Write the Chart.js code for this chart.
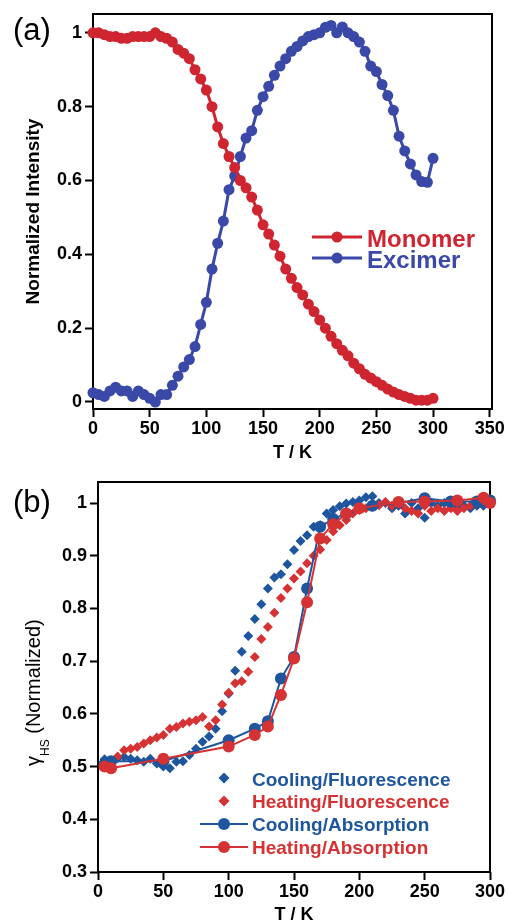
<!DOCTYPE html>
<html>
<head>
<meta charset="utf-8">
<script src="https://cdn.jsdelivr.net/npm/chart.js@4.4.1/dist/chart.umd.min.js"></script>
<style>
    html, body { margin: 0; padding: 0; background: #fff; overflow: hidden; }
    .painel { position: absolute; left: 0; top: 0; width: 508px; height: 923px; }
    #painelB { pointer-events: none; }
</style>
</head>
<body>
<div class="painel" id="painelA"><canvas id="graficoA"></canvas></div>
<div class="painel" id="painelB"><canvas id="graficoB"></canvas></div>
<script>
// ---------- dados (a): intensidade normalizada x temperatura ----------
const tempA = [0, 5, 10, 15, 20, 25, 30, 35, 40, 45, 50, 55, 60, 65, 70, 75, 80, 85, 90, 95,
    100, 105, 110, 115, 120, 125, 130, 135, 140, 145, 150, 155, 160, 165, 170, 175, 180, 185, 190, 195,
    200, 205, 210, 215, 220, 225, 230, 235, 240, 245, 250, 255, 260, 265, 270, 275, 280, 285, 290, 295, 300]
const monomer = [1.0, 1.0, 0.995, 0.99, 0.99, 0.985, 0.985, 0.99, 0.99, 0.99, 0.99, 1.0, 0.99, 0.985, 0.975, 0.955, 0.945, 0.93, 0.9, 0.875,
    0.845, 0.8, 0.745, 0.7, 0.665, 0.635, 0.6, 0.58, 0.555, 0.52, 0.48, 0.455, 0.425, 0.395, 0.36, 0.335, 0.31, 0.29, 0.265, 0.245,
    0.222, 0.2, 0.178, 0.158, 0.14, 0.125, 0.105, 0.09, 0.075, 0.065, 0.055, 0.045, 0.035, 0.027, 0.02, 0.015, 0.01, 0.005, 0.005, 0.005, 0.01]
const excimer = [0.025, 0.02, 0.015, 0.03, 0.04, 0.03, 0.03, 0.015, 0.03, 0.02, 0.01, 0.0, 0.02, 0.02, 0.045, 0.07, 0.095, 0.115, 0.15, 0.21,
    0.27, 0.36, 0.43, 0.49, 0.575, 0.612, 0.665, 0.715, 0.735, 0.79, 0.827, 0.855, 0.885, 0.91, 0.93, 0.95, 0.963, 0.978, 0.99, 0.995,
    1.0, 1.015, 1.02, 1.0, 1.016, 1.0, 0.99, 0.975, 0.95, 0.91, 0.895, 0.86, 0.83, 0.79, 0.72, 0.68, 0.645, 0.615, 0.597, 0.595, 0.66]
const ticksXA = [0, 50, 100, 150, 200, 250, 300, 350]
const ticksYA = [0, 0.2, 0.4, 0.6, 0.8, 1]

// ---------- dados (b): fração HS x temperatura ----------
const tempFluor = [5, 10, 15, 20, 25, 30, 35, 40, 45, 50, 55, 60, 65, 70, 75, 80, 85, 90, 95, 100,
    105, 110, 115, 120, 125, 130, 135, 140, 145, 150, 155, 160, 165, 170, 175, 180, 185, 190, 195, 200,
    205, 210, 215, 220, 225, 230, 235, 240, 245, 250, 255, 260, 265, 270, 275, 280, 285, 290, 295, 300]
const coolFluor = [0.514, 0.51, 0.516, 0.518, 0.515, 0.512, 0.509, 0.515, 0.506, 0.5, 0.497, 0.509, 0.51, 0.522, 0.534, 0.547, 0.557, 0.572, 0.605, 0.638,
    0.682, 0.718, 0.748, 0.78, 0.808, 0.838, 0.859, 0.865, 0.884, 0.911, 0.928, 0.939, 0.955, 0.958, 0.98, 0.987, 0.994, 0.999, 1.002, 1.005,
    1.011, 1.013, 1.0, 1.0, 0.99, 0.995, 0.98, 1.0, 0.99, 0.972, 1.0, 0.995, 1.0, 0.995, 0.99, 0.995, 0.99, 0.995, 0.995, 1.0]
const heatFluor = [0.503, 0.51, 0.519, 0.531, 0.534, 0.537, 0.544, 0.55, 0.555, 0.56, 0.572, 0.575, 0.582, 0.585, 0.588, 0.594, 0.576, 0.588, 0.618, 0.64,
    0.658, 0.662, 0.68, 0.708, 0.742, 0.765, 0.792, 0.82, 0.838, 0.857, 0.87, 0.886, 0.9, 0.912, 0.93, 0.946, 0.958, 0.968, 0.98, 0.987,
    0.99, 0.993, 0.996, 1.002, 0.995, 0.998, 0.99, 0.985, 0.98, 0.995, 0.985, 0.99, 0.985, 0.99, 0.985, 0.99, 0.995, 1.0, 1.005, 1.0]
const tempCoolAbs = [5, 10, 50, 100, 120, 130, 140, 150, 160, 170, 180, 190, 210, 230, 250, 270, 290, 300]
const coolAbs = [0.505, 0.51, 0.51, 0.55, 0.572, 0.586, 0.667, 0.708, 0.838, 0.955, 0.97, 0.98, 0.995, 1.0, 1.009, 1.003, 1.003, 1.005]
const tempHeatAbs = [5, 10, 50, 100, 120, 130, 140, 150, 160, 170, 180, 190, 200, 230, 250, 275, 295, 300]
const heatAbs = [0.5, 0.497, 0.515, 0.538, 0.56, 0.576, 0.636, 0.705, 0.812, 0.933, 0.96, 0.98, 0.99, 1.002, 1.003, 1.005, 1.01, 1.0]
const ticksXB = [0, 50, 100, 150, 200, 250, 300]
const ticksYB = [0.3, 0.4, 0.5, 0.6, 0.7, 0.8, 0.9, 1]

// cores
const vermelhoA = '#cf2530'
const azulA = '#3a48a8'
const vermelhoB = '#d63233'
const azulB = '#1d559e'
const fonte = "'Liberation Sans', Arial, sans-serif"

function pontos(xs, ys) {
    return xs.map((x, i) => ({ x: x, y: ys[i] }))
}

// moldura preta em volta da área do gráfico
const moldura = {
    id: 'moldura',
    beforeDatasetsDraw(chart) {
        const { ctx, chartArea: a } = chart
        ctx.save()
        ctx.strokeStyle = '#000'
        ctx.lineWidth = 2
        ctx.strokeRect(a.left, a.top, a.right - a.left, a.bottom - a.top)
        ctx.restore()
    }
}

function desenhaMarcador(ctx, item, x, y) {
    ctx.fillStyle = item.cor
    ctx.strokeStyle = item.cor
    if (item.linha) {
        ctx.lineWidth = item.linha
        ctx.beginPath()
        ctx.moveTo(x - item.meiaLinha, y)
        ctx.lineTo(x + item.meiaLinha, y)
        ctx.stroke()
    }
    ctx.beginPath()
    if (item.estilo === 'losango') {
        const r = item.raio
        ctx.moveTo(x, y - r)
        ctx.lineTo(x + r, y)
        ctx.lineTo(x, y + r)
        ctx.lineTo(x - r, y)
        ctx.closePath()
    } else {
        ctx.arc(x, y, item.raio, 0, Math.PI * 2)
    }
    ctx.fill()
}

function legendaPlugin(id, itens, xMarcador, xTexto, tamanho) {
    return {
        id: id,
        afterDraw(chart) {
            const ctx = chart.ctx
            ctx.save()
            itens.forEach(item => {
                desenhaMarcador(ctx, item, xMarcador, item.yMarcador)
                ctx.fillStyle = item.cor
                ctx.font = 'bold ' + tamanho + 'px ' + fonte
                ctx.textAlign = 'left'
                ctx.textBaseline = 'alphabetic'
                ctx.fillText(item.texto, xTexto, item.base)
            })
            ctx.restore()
        }
    }
}

function rotuloPainel(id, texto, x, base) {
    return {
        id: id,
        afterDraw(chart) {
            const ctx = chart.ctx
            ctx.save()
            ctx.fillStyle = '#000'
            ctx.font = '31px ' + fonte
            ctx.textBaseline = 'alphabetic'
            ctx.fillText(texto, x, base)
            ctx.restore()
        }
    }
}

function eixoX(min, max, ticks, alturaEixo, tituloPad) {
    return {
        type: 'linear', min: min, max: max,
        afterFit: s => { s.height = alturaEixo },
        afterBuildTicks: s => { s.ticks = ticks.map(v => ({ value: v })) },
        grid: { display: true, drawOnChartArea: false, drawTicks: true, tickLength: 8, tickWidth: 2, tickColor: '#000' },
        border: { display: false },
        ticks: { color: '#000', font: { family: fonte, size: 18, weight: 'bold' }, padding: 1, maxRotation: 0, autoSkip: false, callback: v => String(v) },
        title: { display: true, text: 'T / K', color: '#000', font: { family: fonte, size: 18, weight: 'bold', lineHeight: 1 }, padding: { top: 0, bottom: tituloPad } }
    }
}

function eixoY(min, max, ticks, largura, titulo) {
    const eixo = {
        type: 'linear', min: min, max: max,
        afterFit: s => { s.width = largura },
        afterBuildTicks: s => { s.ticks = ticks.map(v => ({ value: v })) },
        grid: { display: true, drawOnChartArea: false, drawTicks: true, tickLength: 8, tickWidth: 2, tickColor: '#000' },
        border: { display: false },
        ticks: { color: '#000', font: { family: fonte, size: 18, weight: 'bold' }, padding: 3, autoSkip: false, callback: v => String(v) },
        title: { display: false }
    }
    if (titulo) {
        eixo.title = { display: true, text: titulo, color: '#000', font: { family: fonte, size: 19, weight: 'bold', lineHeight: 1 }, padding: { top: 24, bottom: 0 } }
    }
    return eixo
}

/* ------------------------------------ */
// grafico (a)
const legendaA = legendaPlugin('legendaA', [
    { texto: 'Monomer', cor: vermelhoA, linha: 3, meiaLinha: 25, raio: 5.5, yMarcador: 237, base: 247 },
    { texto: 'Excimer', cor: azulA, linha: 3, meiaLinha: 25, raio: 5.5, yMarcador: 258, base: 268 }
], 337, 367, 24)

new Chart(document.getElementById('graficoA'), {
    type: 'line',
    data: {
        datasets: [
            {
                label: 'Monomer', data: pontos(tempA, monomer),
                borderColor: vermelhoA, backgroundColor: vermelhoA, borderWidth: 3,
                pointRadius: 5.5, pointBorderWidth: 0, pointBackgroundColor: vermelhoA, clip: false
            },
            {
                label: 'Excimer', data: pontos(tempA, excimer),
                borderColor: azulA, backgroundColor: azulA, borderWidth: 3,
                pointRadius: 5.5, pointBorderWidth: 0, pointBackgroundColor: azulA, clip: false
            }
        ]
    },
    options: {
        responsive: true, maintainAspectRatio: false, animation: false,
        events: [],
        layout: { padding: { top: 14, right: 16, bottom: 453, left: 0 } },
        plugins: { legend: { display: false }, tooltip: { enabled: false } },
        scales: {
            x: eixoX(0, 352, ticksXA, 61, 8),
            y: eixoY(-0.019, 1.051, ticksYA, 93, 'Normalized Intensity')
        }
    },
    plugins: [moldura, legendaA, rotuloPainel('rotuloA', '(a)', 13, 40)]
})

/* ------------------------------------ */
// grafico (b)
const legendaB = legendaPlugin('legendaB', [
    { texto: 'Cooling/Fluorescence', cor: azulB, estilo: 'losango', raio: 5.5, yMarcador: 778, base: 785.5 },
    { texto: 'Heating/Fluorescence', cor: vermelhoB, estilo: 'losango', raio: 5.5, yMarcador: 801, base: 807.5 },
    { texto: 'Cooling/Absorption', cor: azulB, linha: 2, meiaLinha: 24, raio: 6, yMarcador: 824, base: 830.5 },
    { texto: 'Heating/Absorption', cor: vermelhoB, linha: 2, meiaLinha: 24, raio: 6, yMarcador: 847, base: 853.5 }
], 224, 252, 19)

// titulo do eixo y com subscrito
const tituloYB = {
    id: 'tituloYB',
    afterDraw(chart) {
        const ctx = chart.ctx
        ctx.save()
        ctx.translate(39.5, 766)
        ctx.rotate(-Math.PI / 2)
        ctx.fillStyle = '#000'
        ctx.textAlign = 'left'
        ctx.textBaseline = 'alphabetic'
        ctx.font = '20px ' + fonte
        ctx.fillText('\u03b3', 0, 0)
        let x = ctx.measureText('\u03b3').width
        ctx.font = '12px ' + fonte
        ctx.fillText('HS', x, 9)
        x += ctx.measureText('HS').width
        ctx.font = '20px ' + fonte
        ctx.fillText(' (Normalized)', x, 0)
        ctx.restore()
    }
}

new Chart(document.getElementById('graficoB'), {
    type: 'line',
    data: {
        datasets: [
            {
                label: 'Heating/Absorption', data: pontos(tempHeatAbs, heatAbs),
                borderColor: vermelhoB, backgroundColor: vermelhoB, borderWidth: 2,
                pointRadius: 6, pointBorderWidth: 0, pointBackgroundColor: vermelhoB, clip: false
            },
            {
                label: 'Cooling/Absorption', data: pontos(tempCoolAbs, coolAbs),
                borderColor: azulB, backgroundColor: azulB, borderWidth: 2,
                pointRadius: 6, pointBorderWidth: 0, pointBackgroundColor: azulB, clip: false
            },
            {
                label: 'Heating/Fluorescence', data: pontos(tempFluor, heatFluor),
                showLine: false, pointStyle: 'rectRot', pointRadius: 5,
                pointBorderWidth: 0, pointBackgroundColor: vermelhoB, borderColor: vermelhoB, clip: false
            },
            {
                label: 'Cooling/Fluorescence', data: pontos(tempFluor, coolFluor),
                showLine: false, pointStyle: 'rectRot', pointRadius: 5,
                pointBorderWidth: 0, pointBackgroundColor: azulB, borderColor: azulB, clip: false
            }
        ]
    },
    options: {
        responsive: true, maintainAspectRatio: false, animation: false,
        events: [],
        layout: { padding: { top: 482, right: 18, bottom: 0, left: 0 } },
        plugins: { legend: { display: false }, tooltip: { enabled: false } },
        scales: {
            x: eixoX(0, 300, ticksXB, 51, -1),
            y: eixoY(0.3, 1.04, ticksYB, 98, null)
        }
    },
    plugins: [moldura, legendaB, tituloYB, rotuloPainel('rotuloB', '(b)', 13, 512)]
})
</script>
</body>
</html>
